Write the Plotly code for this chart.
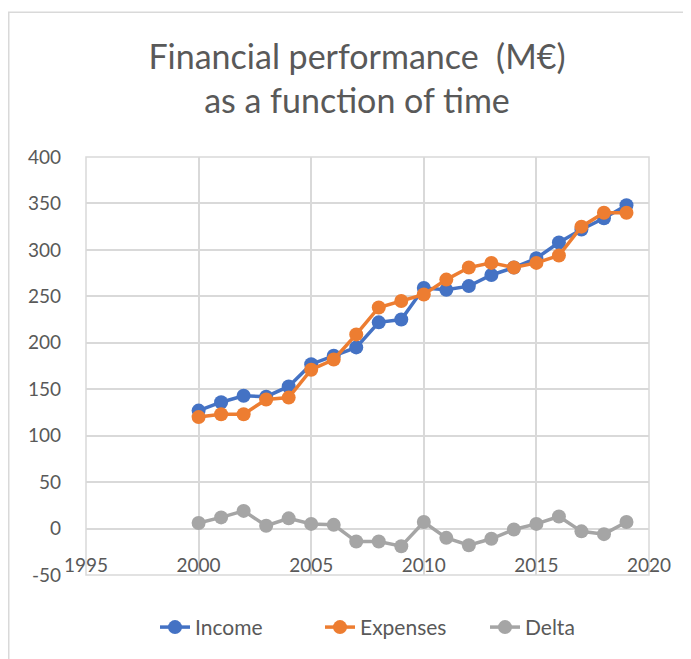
import plotly.graph_objects as go

years = list(range(2000, 2020))
income = [127, 136, 143, 142, 153, 177, 186, 195, 222, 225,
          259, 257, 261, 273, 281, 291, 308, 322, 334, 348]
expenses = [120, 123, 123, 139, 141, 171, 182, 209, 238, 245,
            252, 268, 281, 286, 281, 286, 294, 325, 340, 340]
delta = [6, 12, 19, 3, 11, 5, 4, -14, -14, -19,
         7, -10, -18, -11, -1, 5, 13, -3, -6, 7]
x_ticks = [1995, 2000, 2005, 2010, 2015, 2020]
y_ticks = [-50, 0, 50, 100, 150, 200, 250, 300, 350, 400]
y_labels = [str(v) for v in y_ticks]

FONT = "Lato"
TXT = "#595959"
GRID = "#d9d9d9"

# page body has an 8px margin, so the figure starts at (8, 8)
W, H = 683, 651
L, R, T, B = 78, 42, 149, 83.5
pw, ph = W - L - R, H - T - B

fig = go.Figure()
for name, vals, col in [("Income", income, "#4472C4"),
                        ("Expenses", expenses, "#ED7D31"),
                        ("Delta", delta, "#A5A5A5")]:
    fig.add_trace(go.Scatter(x=years, y=vals, name=name, mode="lines+markers",
                             line=dict(color=col, width=3.5),
                             marker=dict(color=col, size=14)))

ymin, ymax = -50, 400
zero_pos = (0 - ymin) / (ymax - ymin)

fig.update_layout(
    width=W, height=H,
    margin=dict(l=L, r=R, t=T, b=B, autoexpand=False),
    paper_bgcolor="white", plot_bgcolor="white",
    font=dict(family=FONT, color=TXT, size=19),
    title=dict(text="Financial performance  (M€)<br>as a function of time",
               x=349 / W, xanchor="center", xref="container",
               y=1 - 61 / H, yanchor="top", yref="container",
               font=dict(family=FONT, size=34, color=TXT)),
    xaxis=dict(range=[1995, 2020], tickvals=x_ticks, showgrid=True,
               gridcolor=GRID, gridwidth=1.5, zeroline=False, showline=False,
               anchor="free", position=zero_pos, ticks="",
               ticklabelstandoff=23, tickfont=dict(size=19, color=TXT)),
    yaxis=dict(range=[ymin, ymax], tickvals=y_ticks, ticktext=y_labels,
               showgrid=True, gridcolor=GRID, gridwidth=1.5, zeroline=True,
               zerolinecolor=GRID, zerolinewidth=1.5, showline=False, ticks="",
               ticklabelstandoff=24, tickfont=dict(size=19, color=TXT)),
    legend=dict(orientation="h", x=147 / W, xref="container", xanchor="left",
                y=-(620 - (H - B)) / ph, yanchor="middle",
                font=dict(size=21, color=TXT), entrywidth=120,
                entrywidthmode="pixels", bgcolor="rgba(0,0,0,0)"),
    showlegend=True,
)

# plot-area frame
fig.add_shape(type="rect", xref="x domain", yref="y domain", x0=0, x1=1, y0=0, y1=1,
              line=dict(color=GRID, width=1.5), layer="below")
# chart outer border (top & left visible)
fig.add_shape(type="rect", xref="paper", yref="paper",
              x0=(0.75 - L) / pw, x1=(W + 20 - L) / pw,
              y0=-(H + 20 - (H - B)) / ph, y1=((H - B) - 4) / ph,
              line=dict(color="#d9d9d9", width=1.5))

fig.write_html("out.html")
